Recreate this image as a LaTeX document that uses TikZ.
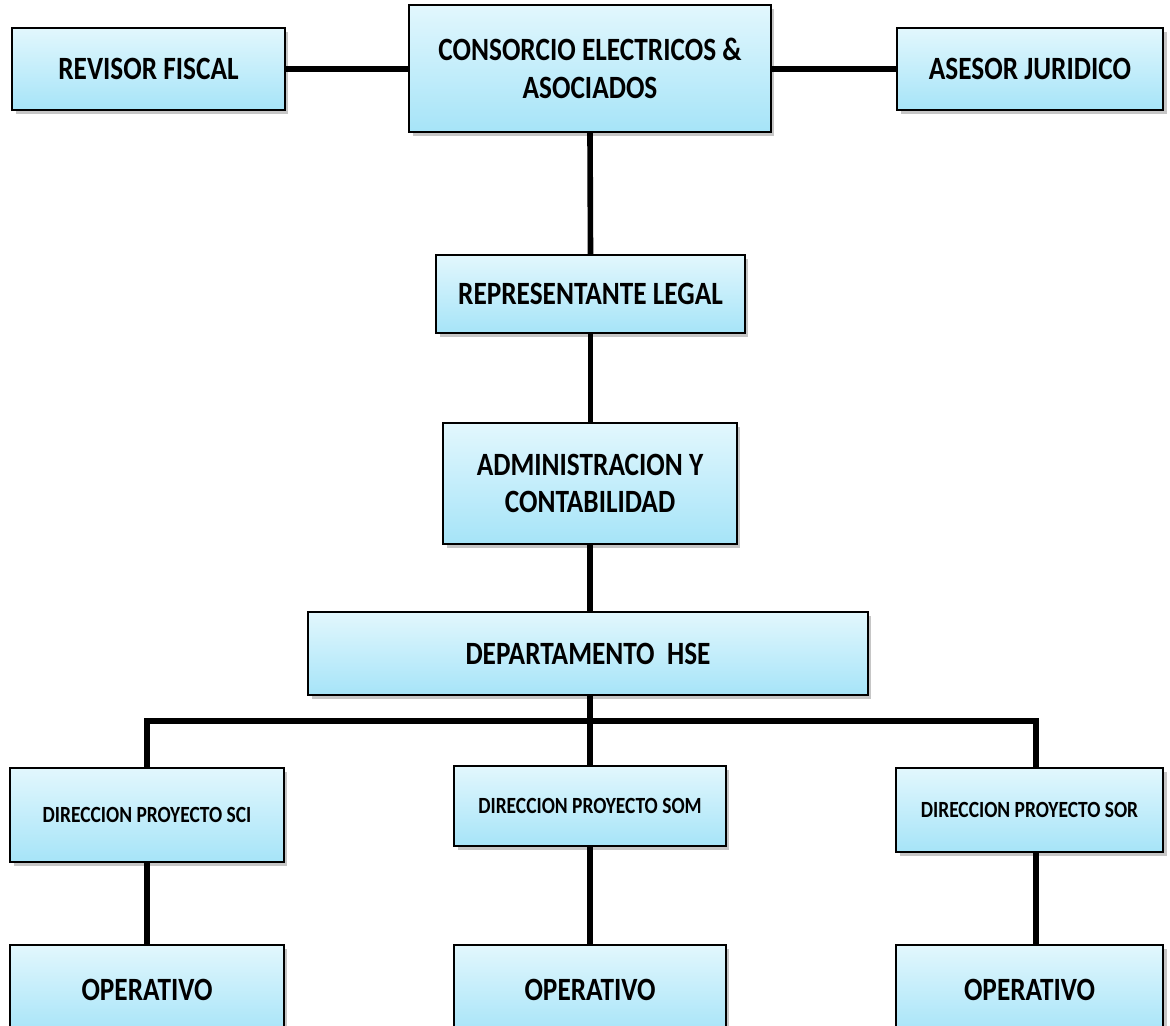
\documentclass[tikz,border=0pt]{standalone}
\usepackage{fontspec}
\setmainfont{Carlito}[FakeStretch=0.84]
\usepackage{tikz}
\usetikzlibrary{calc,shadows}

\definecolor{boxtop}{RGB}{226,247,253}
\definecolor{boxbot}{RGB}{166,228,248}

\begin{document}
\begin{tikzpicture}[x=0.02cm,y=-0.02cm,
    caja/.style={draw=black,line width=1pt,top color=boxtop,bottom color=boxbot,
      drop shadow={shadow xshift=2pt,shadow yshift=-2pt,opacity=0.45},
      inner sep=0pt,align=center,font=\bfseries\fontsize{18.5}{21.5}\selectfont},
    cajita/.style={caja,font=\bfseries\fontsize{13.2}{15}\selectfont},
    linea/.style={line width=3.2pt,black}]
  \useasboundingbox (0,0) rectangle (1170,1025);
  \clip (0,0) rectangle (1170,1025);

  % nivel superior
  \node[caja,minimum width=5.46cm,minimum height=1.64cm] (revisor) at (148.5,69) {REVISOR FISCAL};
  \node[caja,minimum width=7.24cm,minimum height=2.54cm] (consorcio) at (590,68.5) {CONSORCIO ELECTRICOS \&\\ASOCIADOS};
  \node[caja,minimum width=5.32cm,minimum height=1.64cm] (asesor) at (1030,69) {ASESOR JURIDICO};

  \node[caja,minimum width=6.18cm,minimum height=1.56cm] (rep) at (590.5,294) {REPRESENTANTE LEGAL};
  \node[caja,minimum width=5.88cm,minimum height=2.42cm] (admin) at (590,483.5) {ADMINISTRACION Y\\CONTABILIDAD};
  \node[caja,minimum width=11.2cm,minimum height=1.66cm] (hse) at (588,653.5) {DEPARTAMENTO\ \ HSE};

  % direcciones
  \node[cajita,minimum width=5.48cm,minimum height=1.88cm] (sci) at (147,815) {DIRECCION PROYECTO SCI};
  \node[cajita,minimum width=5.44cm,minimum height=1.6cm] (som) at (590,806) {DIRECCION PROYECTO SOM};
  \node[cajita,minimum width=5.34cm,minimum height=1.68cm] (sor) at (1029.5,810) {DIRECCION PROYECTO SOR};

  % operativos
  \node[caja,minimum width=5.48cm,minimum height=1.8cm] (op1) at (147,990) {OPERATIVO};
  \node[caja,minimum width=5.44cm,minimum height=1.8cm] (op2) at (590,990) {OPERATIVO};
  \node[caja,minimum width=5.34cm,minimum height=1.8cm] (op3) at (1029.5,990) {OPERATIVO};

  \coordinate (bus) at (590,721);
  \coordinate (busr) at (1036,721);

  \draw[linea] (revisor.east) -- (revisor.east -| consorcio.west);
  \draw[linea] (asesor.west) -- (asesor.west -| consorcio.east);
  \draw[linea] (consorcio.south) -- (rep.north);
  \draw[linea] (rep.south) -- (rep.south |- admin.north);
  \draw[linea] (admin.south) -- (admin.south |- hse.north);
  \draw[linea] (hse.south -| bus) -- (bus);
  \draw[linea] (sci.north) -- (sci.north |- bus) -- (busr) -- (busr |- sor.north);
  \draw[linea] (bus) -- (som.north);
  \draw[linea] (sci.south) -- (op1.north);
  \draw[linea] (som.south) -- (op2.north);
  \draw[linea] (busr |- sor.south) -- (busr |- op3.north);
\end{tikzpicture}
\end{document}
